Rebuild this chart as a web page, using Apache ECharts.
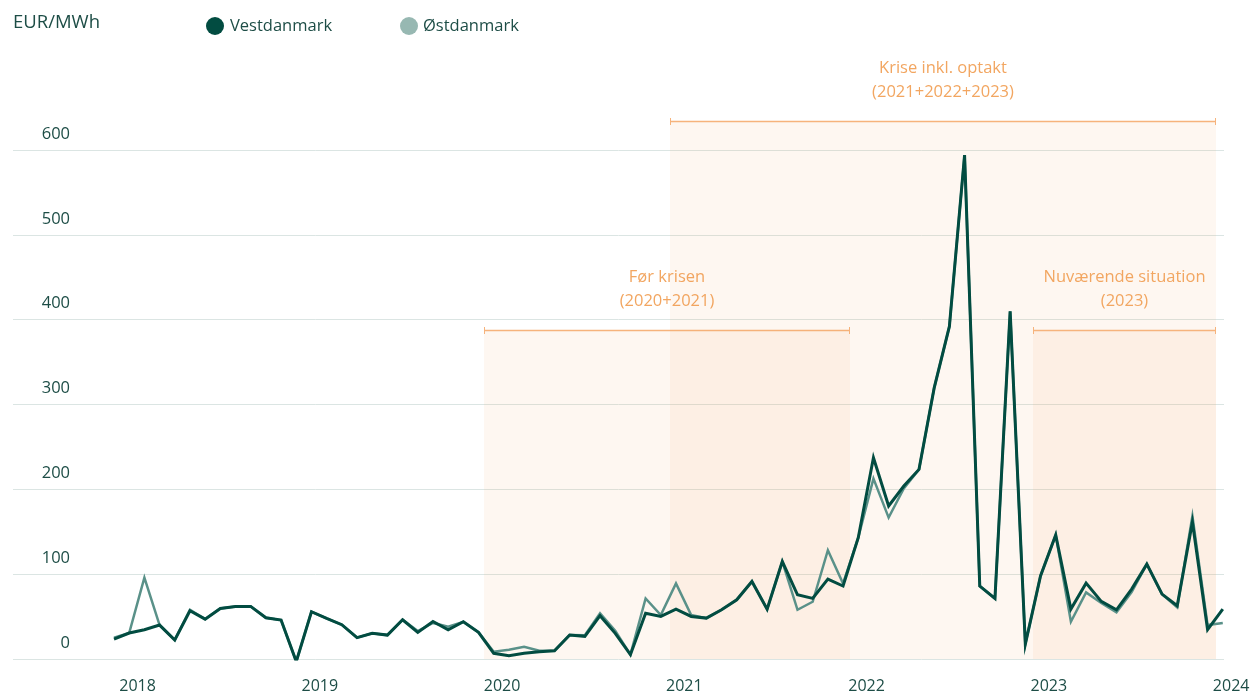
<!DOCTYPE html>
<html>
<head>
<meta charset="utf-8">
<script src="https://cdn.jsdelivr.net/npm/echarts@6/dist/echarts.min.js"></script>
<style>
html,body{margin:0;padding:0;background:#fff;}
#chart{width:1256px;height:694px;}
</style>
</head>
<body>
<div id="chart"></div>
<script>
// Monthly prices, Nov 2017 .. Dec 2023 (EUR/MWh)
var months = [];
(function(){ var y=2017,m=11; for(var k=0;k<74;k++){ months.push(y+'-'+(m<10?'0'+m:m)); m++; if(m>12){m=1;y++;} } })();

var vestdanmark = [23.5,30.6,34.5,40,22.4,56.9,47,59.6,62,62,
  48.6,45.9,-3,55.7,47.8,40.4,25.1,30.2,28.2,46.3,
  31.4,44.3,34.5,43.9,31.4,6.7,3.9,6.7,8.6,9.8,
  28.2,26.7,51,30.2,5.1,54,50.2,58.8,50.2,48.2,
  58,69.8,91.4,58.8,114.9,75.7,71.4,94.1,86,143,
  237.3,180.4,203.9,223.5,319.6,392,594,86,71.4,409.8,
  17.6,98,146.2,58.8,89.4,67.9,58,82.4,111.8,76.5,
  62.7,161.5,34.5,58.8];

var oestdanmark = [25,30.6,96,40,22.4,58,47,59.6,62,62,
  48.6,45.9,-3,55.7,47.8,40.4,25.1,30.2,28.2,46.3,
  33,42.5,38,43.9,31.4,8.6,10.9,14.5,9.8,9.8,
  28.2,28,54,33.3,5.1,71.4,51.8,89,51.8,48.2,
  58,69.8,91.4,58.8,114.9,58,67.5,128.2,89,143,
  212.6,166.7,201,223.5,319.6,392,594,86,71.4,409.8,
  17.6,98,146.2,43.9,78.5,66,54.9,79,111.8,76.5,
  60.8,168.6,40,42.4];

var yearLabels = ['2018','2019','2020','2021','2022','2023','2024'];
var yTicks = [0,100,200,300,400,500,600];

// Annotated periods (in month-index units; 0 = Nov 2017), upper level in EUR/MWh
var periodNames = ['Før krisen\n(2020+2021)', 'Krise inkl. optakt\n(2021+2022+2023)', 'Nuværende situation\n(2023)'];
var periodStart = [24.36, 36.6, 60.52];
var periodEnd   = [48.45, 72.55, 72.55];
var periodLevel = [388, 634, 388];

var FONT = "'Open Sans', sans-serif";
var TXT = '#1d4d46';

function pairs(arr){ return arr.map(function(v,i){ return [i, v]; }); }
// Jan 1 of each year in month-index units (points sit mid-month)
var yearPos = yearLabels.map(function(y,k){ return 1.55 + 12*k; });

var chart = echarts.init(document.getElementById('chart'), null, {renderer:'canvas'});

var option = {
  animation: false,
  backgroundColor: '#fff',
  title: { text: 'EUR/MWh', left: 8, top: 8, textStyle: { fontFamily: FONT, fontSize: 18.5, fontWeight: 'normal', color: TXT } },
  legend: [
    { data: [{name:'Vestdanmark'}], left: 201, top: 12, icon: 'circle', itemWidth: 18, itemHeight: 18, itemGap: 0,
      textStyle: { fontFamily: FONT, fontSize: 16.5, color: TXT, padding:[0,0,0,1] } },
    { data: [{name:'Østdanmark', itemStyle:{color:'#97b8b2'}}], left: 395, top: 12, icon: 'circle', itemWidth: 18, itemHeight: 18,
      textStyle: { fontFamily: FONT, fontSize: 16.5, color: TXT, padding:[0,0,0,0] } }
  ],
  grid: { left: 13, right: 32, top: 150, bottom: 34, containLabel: false },
  xAxis: {
    type: 'value', min: -6.65, max: 73.08,
    axisLine: { show: false }, axisTick: { show: false }, splitLine: { show: false },
    axisLabel: {
      customValues: yearPos.slice(0, 6),
      margin: 19, fontFamily: FONT, fontSize: 16, color: TXT,
      formatter: function(v){ var k = Math.round((v - 1.55)/12); return yearLabels[k] || ''; }
    }
  },
  yAxis: {
    type: 'value', min: 0, max: 600, interval: 100,
    axisLine: { show: false }, axisTick: { show: false },
    splitLine: { lineStyle: { color: '#dbe5e3', width: 1 } },
    axisLabel: { inside: true, align: 'right', margin: 57, verticalAlign: 'bottom',
      lineHeight: 16, padding: [0,0,8,0], fontFamily: FONT, fontSize: 16.5, color: TXT,
      formatter: function(v){ return yTicks.indexOf(v) >= 0 ? String(v) : ''; } }
  },
  series: [
    {
      type: 'custom', name: 'periods', z: 1, silent: true, clip: false,
      data: periodNames.map(function(n,i){ return [periodStart[i], periodEnd[i], periodLevel[i], i]; }),
      renderItem: function(params, api){
        var p0 = api.coord([api.value(0), api.value(2)]);
        var p1 = api.coord([api.value(1), 0]);
        var i = api.value(3);
        var x0 = Math.round(p0[0]), x1 = Math.round(p1[0]), yt = Math.round(p0[1]), yb = p1[1];
        var lineCol = '#f6b37c';
        return { type: 'group', children: [
          { type: 'rect', shape: { x: x0, y: yt + 1, width: x1 - x0, height: yb - yt - 1 },
            style: { fill: 'rgba(240,160,90,0.085)' }, z2: 0 },
          { type: 'line', shape: { x1: x0, y1: yt + 0.5, x2: x1, y2: yt + 0.5 }, style: { stroke: lineCol, lineWidth: 1.5 } },
          { type: 'line', shape: { x1: x0 + 0.5, y1: yt - 3, x2: x0 + 0.5, y2: yt + 4 }, style: { stroke: lineCol, lineWidth: 1 } },
          { type: 'line', shape: { x1: x1 - 0.5, y1: yt - 3, x2: x1 - 0.5, y2: yt + 4 }, style: { stroke: lineCol, lineWidth: 1 } },
          { type: 'text', x: (x0 + x1) / 2, y: yt - 17,
            style: { text: periodNames[i], fill: '#f2a661', font: '16.5px ' + FONT, align: 'center', verticalAlign: 'bottom', lineHeight: 24 } }
        ]};
      }
    },
    {
      name: 'Østdanmark', type: 'line', z: 2, data: pairs(oestdanmark), showSymbol: false, symbol: 'none',
      lineStyle: { color: '#5a9189', width: 2.5, join: 'miter' }, itemStyle: { color: '#5a9189' }
    },
    {
      name: 'Vestdanmark', type: 'line', z: 3, data: pairs(vestdanmark), showSymbol: false, symbol: 'none',
      lineStyle: { color: '#024c41', width: 3, join: 'miter' }, itemStyle: { color: '#024c41' }
    }
  ]
};
chart.setOption(option);

// Last year label lies just past the plotted range; place it through the axis scale.
var lastPx = chart.convertToPixel({xAxisIndex: 0}, yearPos[6]);
var basePx = chart.convertToPixel({yAxisIndex: 0}, 0);
chart.setOption({ graphic: [{ type: 'text', x: lastPx, y: basePx + 19,
  style: { text: yearLabels[6], fill: TXT, font: '16px ' + FONT, align: 'center', verticalAlign: 'top' } }] });
</script>
</body>
</html>
